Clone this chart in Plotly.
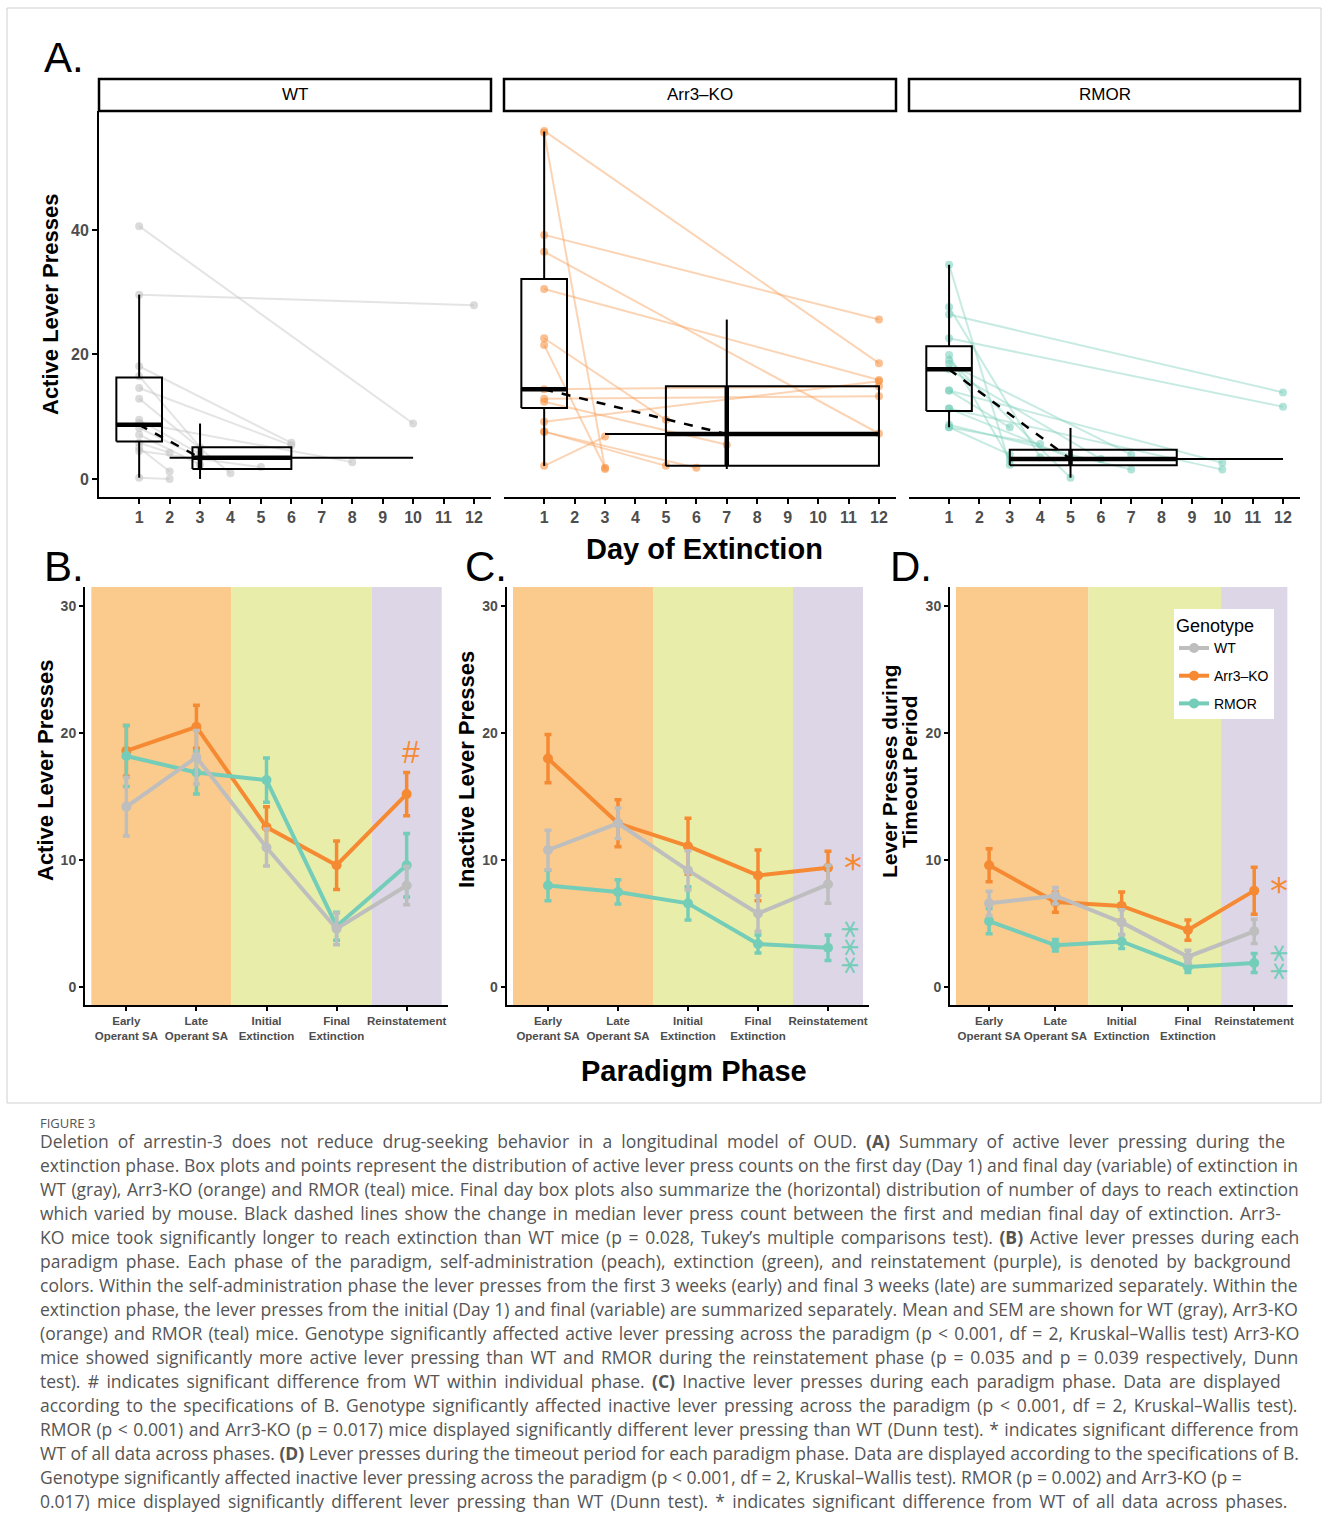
import plotly.graph_objects as go

W, H = 1329, 1529
FONT = "Liberation Sans, Arial, sans-serif"
TICK_GRAY = "#4D4D4D"

# ---------------- data ----------------
genotypes = ["WT", "Arr3–KO", "RMOR"]
geno_colors = ["#BEBEBE", "#F58A33", "#74CDB9"]
point_colors = ["rgba(195,195,195,0.6)", "rgba(245,140,55,0.55)", "rgba(116,205,185,0.55)"]
link_colors = ["rgba(195,195,195,0.45)", "rgba(247,160,90,0.45)", "rgba(130,210,190,0.45)"]

extinction_days = list(range(1, 13))
first_day = 1

# Panel A: per-mouse active presses, day 1 and final day of extinction
wt_day1 = [40.6, 29.6, 18.1, 16.5, 14.6, 12.9, 9.0, 8.2, 7.1, 5.8, 5.0, 0.2, 4.5, 9.5]
wt_final_day = [10, 12, 6, 3, 6, 4, 8, 3, 3, 2, 2, 2, 5, 3]
wt_final = [8.9, 27.9, 5.8, 5.1, 5.4, 0.9, 2.7, 3.4, 2.3, 4.2, 1.2, 0.0, 1.9, 4.0]

ko_day1 = [55.9, 55.6, 39.2, 36.5, 30.5, 22.6, 21.5, 14.4, 12.9, 12.4, 9.2, 7.6, 7.6, 2.1]
ko_final_day = [12, 3, 12, 12, 12, 5, 3, 12, 12, 7, 12, 5, 6, 3]
ko_final = [18.6, 1.6, 25.6, 7.3, 15.9, 9.5, 1.8, 14.9, 13.3, 5.5, 15.7, 2.1, 1.8, 6.8]

rm_day1 = [34.4, 27.6, 26.4, 22.6, 19.9, 19.1, 18.5, 17.6, 14.2, 14.2, 11.3, 8.7, 8.3, 8.3, 11.3]
rm_final_day = [3, 4, 12, 12, 3, 5, 7, 6, 10, 3, 10, 7, 4, 3, 5]
rm_final = [2.3, 3.5, 13.9, 11.6, 3.1, 0.2, 3.9, 3.2, 2.6, 8.3, 1.5, 1.5, 5.6, 3.9, 3.4]

# Panel A box summaries (order: WT, Arr3-KO, RMOR)
day1_lower = [0.2, 2.1, 8.3]
day1_q1 = [6.0, 11.4, 10.9]
day1_median = [8.7, 14.4, 17.6]
day1_q3 = [16.3, 32.1, 21.3]
day1_upper = [29.6, 55.8, 34.4]

final_val_lower = [0.0, 1.6, 0.2]
final_val_q1 = [1.6, 2.1, 2.2]
final_val_median = [3.4, 7.2, 3.2]
final_val_q3 = [5.1, 14.9, 4.7]
final_val_upper = [8.9, 25.6, 8.2]

final_day_lower = [2, 3, 3]
final_day_q1 = [2.75, 5, 3]
final_day_median = [3, 7, 5]
final_day_q3 = [6, 12, 8.5]
final_day_upper = [10, 12, 12]

# Panels B-D
phases = ["Early<br>Operant SA", "Late<br>Operant SA", "Initial<br>Extinction",
          "Final<br>Extinction", "Reinstatement"]
phase_pos = [1, 2, 3, 4, 5]
band_edges = [0.5, 2.5, 4.5, 5.5]
band_colors = ["#FACB8C", "#E8EEAA", "#DDD6E7"]

active_mean = {"WT": [14.2, 18.1, 11.0, 4.6, 8.0],
               "Arr3–KO": [18.6, 20.5, 12.6, 9.6, 15.2],
               "RMOR": [18.2, 16.9, 16.3, 4.8, 9.6]}
active_sem = {"WT": [2.3, 2.1, 1.45, 1.25, 1.5],
              "Arr3–KO": [2.0, 1.7, 1.6, 1.9, 1.7],
              "RMOR": [2.4, 1.7, 1.75, 1.1, 2.5]}
inactive_mean = {"WT": [10.8, 12.9, 9.2, 5.8, 8.1],
                 "Arr3–KO": [18.0, 12.9, 11.1, 8.8, 9.4],
                 "RMOR": [8.0, 7.5, 6.6, 3.4, 3.1]}
inactive_sem = {"WT": [1.55, 1.2, 1.55, 1.4, 1.5],
                "Arr3–KO": [1.9, 1.85, 2.2, 2.0, 1.3],
                "RMOR": [1.2, 0.95, 1.3, 0.7, 1.0]}
timeout_mean = {"WT": [6.6, 7.2, 5.1, 2.4, 4.4],
                "Arr3–KO": [9.6, 6.7, 6.4, 4.5, 7.6],
                "RMOR": [5.2, 3.3, 3.6, 1.6, 1.9]}
timeout_sem = {"WT": [0.95, 0.65, 1.0, 0.5, 0.95],
               "Arr3–KO": [1.3, 0.8, 1.1, 0.8, 1.85],
               "RMOR": [1.0, 0.45, 0.55, 0.45, 0.75]}

# significance markers: (panel, marker text, genotype index, x, y of centre)
sig_marks = [("B", "#", 1, 5.06, 18.5),
             ("C", "*", 1, 5.35, 9.77),
             ("C", "***", 2, 5.28, 3.17),
             ("D", "*", 1, 5.37, 7.90),
             ("D", "**", 2, 5.34, 1.99)]

caption_title = "FIGURE 3"
caption_lines = [
    "Deletion of arrestin-3 does not reduce drug-seeking behavior in a longitudinal model of OUD. <b>(A)</b> Summary of active lever pressing during the",
    "extinction phase. Box plots and points represent the distribution of active lever press counts on the first day (Day 1) and final day (variable) of extinction in",
    "WT (gray), Arr3-KO (orange) and RMOR (teal) mice. Final day box plots also summarize the (horizontal) distribution of number of days to reach extinction",
    "which varied by mouse. Black dashed lines show the change in median lever press count between the first and median final day of extinction. Arr3-",
    "KO mice took significantly longer to reach extinction than WT mice (p = 0.028, Tukey’s multiple comparisons test). <b>(B)</b> Active lever presses during each",
    "paradigm phase. Each phase of the paradigm, self-administration (peach), extinction (green), and reinstatement (purple), is denoted by background",
    "colors. Within the self-administration phase the lever presses from the first 3 weeks (early) and final 3 weeks (late) are summarized separately. Within the",
    "extinction phase, the lever presses from the initial (Day 1) and final (variable) are summarized separately. Mean and SEM are shown for WT (gray), Arr3-KO",
    "(orange) and RMOR (teal) mice. Genotype significantly affected active lever pressing across the paradigm (p &lt; 0.001, df = 2, Kruskal–Wallis test) Arr3-KO",
    "mice showed significantly more active lever pressing than WT and RMOR during the reinstatement phase (p = 0.035 and p = 0.039 respectively, Dunn",
    "test). # indicates significant difference from WT within individual phase. <b>(C)</b> Inactive lever presses during each paradigm phase. Data are displayed",
    "according to the specifications of B. Genotype significantly affected inactive lever pressing across the paradigm (p &lt; 0.001, df = 2, Kruskal–Wallis test).",
    "RMOR (p &lt; 0.001) and Arr3-KO (p = 0.017) mice displayed significantly different lever pressing than WT (Dunn test). * indicates significant difference from",
    "WT of all data across phases. <b>(D)</b> Lever presses during the timeout period for each paradigm phase. Data are displayed according to the specifications of B.",
    "Genotype significantly affected inactive lever pressing across the paradigm (p &lt; 0.001, df = 2, Kruskal–Wallis test). RMOR (p = 0.002) and Arr3-KO (p =",
    "0.017) mice displayed significantly different lever pressing than WT (Dunn test). * indicates significant difference from WT of all data across phases.",
]

# caption typesetting (layout only): approximate justification via word spacing
caption_extra_px = [96, 4, 24, 47, 48, 54, 13, 6, 36, 52, 56, 48, 22, 1, 0, 57]


# ---------------- helpers ----------------
def px_x(p):
    return p / W


def px_y(p):
    return 1 - p / H


fig = go.Figure()

# Panel A facets
facet_x = [(99, 491), (504, 896), (909, 1300)]
facet_y = (111, 497)
mice = [(wt_day1, wt_final_day, wt_final), (ko_day1, ko_final_day, ko_final), (rm_day1, rm_final_day, rm_final)]
BOX_HALF = 0.75

for g in range(3):
    xa = "x" if g == 0 else f"x{g + 1}"
    ya = "y" if g == 0 else f"y{g + 1}"
    d1, fd, fv = mice[g]
    lx, ly = [], []
    for a, b, c in zip(d1, fd, fv):
        lx += [first_day, b, None]
        ly += [a, c, None]
    fig.add_trace(go.Scatter(x=lx, y=ly, mode="lines", line=dict(color=link_colors[g], width=2),
                             xaxis=xa, yaxis=ya, showlegend=False, hoverinfo="skip"))
    fig.add_trace(go.Scatter(x=[first_day] * len(d1) + fd, y=d1 + fv, mode="markers",
                             marker=dict(color=point_colors[g], size=8), xaxis=xa, yaxis=ya,
                             showlegend=False, hoverinfo="skip"))
    c = first_day
    blk = dict(color="black", width=2)
    fig.add_trace(go.Scatter(x=[c, c, None, c, c], y=[day1_lower[g], day1_q1[g], None, day1_q3[g], day1_upper[g]],
                             mode="lines", line=blk, xaxis=xa, yaxis=ya, showlegend=False, hoverinfo="skip"))
    fig.add_trace(go.Scatter(x=[c - BOX_HALF, c + BOX_HALF, c + BOX_HALF, c - BOX_HALF, c - BOX_HALF],
                             y=[day1_q1[g], day1_q1[g], day1_q3[g], day1_q3[g], day1_q1[g]],
                             mode="lines", line=blk, xaxis=xa, yaxis=ya, showlegend=False, hoverinfo="skip"))
    fig.add_trace(go.Scatter(x=[c - BOX_HALF, c + BOX_HALF], y=[day1_median[g]] * 2, mode="lines",
                             line=dict(color="black", width=4.5), xaxis=xa, yaxis=ya, showlegend=False, hoverinfo="skip"))
    fig.add_trace(go.Scatter(x=[final_day_median[g]] * 2, y=[final_val_lower[g], final_val_upper[g]], mode="lines",
                             line=blk, xaxis=xa, yaxis=ya, showlegend=False, hoverinfo="skip"))
    fig.add_trace(go.Scatter(x=[final_day_lower[g], final_day_upper[g]], y=[final_val_median[g]] * 2, mode="lines",
                             line=blk, xaxis=xa, yaxis=ya, showlegend=False, hoverinfo="skip"))
    fig.add_trace(go.Scatter(x=[final_day_q1[g], final_day_q3[g], final_day_q3[g], final_day_q1[g], final_day_q1[g]],
                             y=[final_val_q1[g], final_val_q1[g], final_val_q3[g], final_val_q3[g], final_val_q1[g]],
                             mode="lines", line=blk, xaxis=xa, yaxis=ya, showlegend=False, hoverinfo="skip"))
    fig.add_trace(go.Scatter(x=[final_day_q1[g], final_day_q3[g], None, final_day_median[g], final_day_median[g]],
                             y=[final_val_median[g], final_val_median[g], None, final_val_q1[g], final_val_q3[g]],
                             mode="lines", line=dict(color="black", width=4.5), xaxis=xa, yaxis=ya,
                             showlegend=False, hoverinfo="skip"))
    fig.add_trace(go.Scatter(x=[first_day, final_day_median[g]], y=[day1_median[g], final_val_median[g]],
                             mode="lines", line=dict(color="black", width=2.5, dash="dash"),
                             xaxis=xa, yaxis=ya, showlegend=False, hoverinfo="skip"))

# Panels B-D
panel_data = [("x4", "y4", active_mean, active_sem),
              ("x5", "y5", inactive_mean, inactive_sem),
              ("x6", "y6", timeout_mean, timeout_sem)]
draw_order = [1, 2, 0]
for pi, (xa, ya, means, sems) in enumerate(panel_data):
    for g in draw_order:
        name = genotypes[g]
        fig.add_trace(go.Scatter(
            x=phase_pos, y=means[name], mode="lines+markers", name=name, legendgroup=name,
            line=dict(color=geno_colors[g], width=4), marker=dict(color=geno_colors[g], size=10),
            error_y=dict(type="data", array=sems[name], color=geno_colors[g], thickness=3.5, width=3.5),
            xaxis=xa, yaxis=ya, showlegend=(pi == 2), legendrank=g + 1, hoverinfo="skip"))

# ---------------- layout ----------------
layout = dict(width=W, height=H, autosize=False, margin=dict(l=0, r=0, t=0, b=0), plot_bgcolor="white",
              paper_bgcolor="white", font=dict(family=FONT, color="black"))

for g in range(3):
    k = "" if g == 0 else str(g + 1)
    x0, x1 = facet_x[g]
    layout["xaxis" + k] = dict(domain=[px_x(x0), px_x(x1)], range=[-0.32, 12.56], anchor="y" + k,
                               tickvals=extinction_days, ticktext=[str(d) for d in extinction_days],
                               ticks="outside", ticklen=5, tickwidth=2, tickcolor="black", tickangle=0,
                               showline=True, linewidth=2, linecolor="black", showgrid=False, zeroline=False,
                               tickfont=dict(size=16, color=TICK_GRAY, weight="bold"), fixedrange=True)
    layout["yaxis" + k] = dict(domain=[px_y(facet_y[1]), px_y(facet_y[0])], range=[-2.9, 59.1], anchor="x" + k,
                               tickvals=[0, 20, 40], showgrid=False, zeroline=False,
                               showline=(g == 0), linewidth=2, linecolor="black",
                               ticks="outside" if g == 0 else "", ticklen=5, tickwidth=2, tickcolor="black",
                               showticklabels=(g == 0),
                               tickfont=dict(size=16, color=TICK_GRAY, weight="bold"), fixedrange=True)

bcd_x = [(85, 448), (506.7, 869.3), (950, 1293.3)]
bcd_y = (587, 1005)
for i in range(3):
    k = str(i + 4)
    x0, x1 = bcd_x[i]
    layout["xaxis" + k] = dict(domain=[px_x(x0), px_x(x1)], range=[0.41, 5.59], anchor="y" + k,
                               tickvals=phase_pos, ticktext=phases, ticks="outside", ticklen=4, tickwidth=1.5,
                               tickcolor="black", tickangle=0, showline=True, linewidth=2, linecolor="black",
                               showgrid=False, zeroline=False,
                               tickfont=dict(size=11.5, color=TICK_GRAY, weight="bold"), fixedrange=True)
    layout["yaxis" + k] = dict(domain=[px_y(bcd_y[1]), px_y(bcd_y[0])], range=[-1.4, 31.5], anchor="x" + k,
                               tickvals=[0, 10, 20, 30], ticks="outside", ticklen=4, tickwidth=1.5,
                               tickcolor="black", showline=True, linewidth=2, linecolor="black",
                               showgrid=False, zeroline=False,
                               tickfont=dict(size=14, color=TICK_GRAY, weight="bold"), fixedrange=True)

shapes = []
shapes.append(dict(type="rect", xref="paper", yref="paper", x0=px_x(7), x1=px_x(1321), y0=px_y(1103), y1=px_y(8),
                   line=dict(color="#D0D0D0", width=1), fillcolor="rgba(0,0,0,0)", layer="below"))
for g in range(3):
    xa = "x" if g == 0 else f"x{g + 1}"
    shapes.append(dict(type="rect", xref=f"{xa} domain", yref="paper", x0=0, x1=1, y0=px_y(111), y1=px_y(79),
                       line=dict(color="black", width=2.5), fillcolor="white"))
for i in range(3):
    xa = f"x{i + 4}"
    ya = f"y{i + 4}"
    for b in range(3):
        shapes.append(dict(type="rect", xref=xa, yref=f"{ya} domain", x0=band_edges[b], x1=band_edges[b + 1],
                           y0=0, y1=1, fillcolor=band_colors[b], line=dict(width=0), layer="below"))
layout["shapes"] = shapes

ann = []
for lab, x, y in [("A.", 42, 58), ("B.", 42, 566), ("C.", 463, 566), ("D.", 888, 566)]:
    ann.append(dict(text=lab, x=px_x(x), y=px_y(y), xref="paper", yref="paper", xanchor="left", yanchor="middle",
                    showarrow=False, font=dict(size=42, family=FONT, color="black")))
for g in range(3):
    xa = "x" if g == 0 else f"x{g + 1}"
    ann.append(dict(text=genotypes[g], x=0.5, y=px_y(95), xref=f"{xa} domain", yref="paper",
                    xanchor="center", yanchor="middle", showarrow=False, font=dict(size=17, family=FONT)))
for txt, x, y, fs in [("Active Lever Presses", 50, 305, 22), ("Active Lever Presses", 45, 771, 22),
                      ("Inactive Lever Presses", 466, 770, 22), ("Lever Presses during", 889, 771, 21),
                      ("Timeout Period", 910, 772, 21)]:
    ann.append(dict(text=txt, x=px_x(x), y=px_y(y), xref="paper", yref="paper", textangle=-90,
                    xanchor="center", yanchor="middle", showarrow=False,
                    font=dict(size=fs, family=FONT, color="black", weight="bold")))
big_title = dict(size=29, family=FONT, color="black", weight="bold")
ann.append(dict(text="Day of Extinction", x=px_x(704), y=px_y(549), xref="paper", yref="paper",
                xanchor="center", yanchor="middle", showarrow=False, font=big_title))
ann.append(dict(text="Paradigm Phase", x=px_x(694), y=px_y(1071), xref="paper", yref="paper",
                xanchor="center", yanchor="middle", showarrow=False, font=big_title))
panel_axes = {"B": ("x4", "y4"), "C": ("x5", "y5"), "D": ("x6", "y6")}
for panel, sym, g, x, y in sig_marks:
    xa, ya = panel_axes[panel]
    if sym == "#":
        ann.append(dict(text=sym, x=x, y=y, xref=xa, yref=ya, xanchor="center", yanchor="middle",
                        showarrow=False, font=dict(size=32, family=FONT, color=geno_colors[g])))
    elif len(sym) == 1:
        ann.append(dict(text=sym, x=x, y=y, xref=xa, yref=ya, xanchor="center", yanchor="middle",
                        yshift=-4, showarrow=False,
                        font=dict(size=36, family="DejaVu Sans", color=geno_colors[g])))
    else:
        # stacked asterisks: one text run turned vertical so the glyphs sit tightly
        ann.append(dict(text=sym, x=x, y=y, xref=xa, yref=ya, xanchor="center", yanchor="middle",
                        textangle=90, xshift=-4, yshift=0, showarrow=False,
                        font=dict(size=36, family="DejaVu Sans", color=geno_colors[g])))
cap_color = "#555555"
ann.append(dict(text=caption_title, x=px_x(38), y=px_y(1123), xref="paper", yref="paper", xanchor="left",
                yanchor="middle", showarrow=False, font=dict(size=13, family="Open Sans", color=cap_color)))
for i, line in enumerate(caption_lines):
    n_spaces = max(line.count(" "), 1)
    ws = max(caption_extra_px[i], 0) / n_spaces
    txt = f'<span style="word-spacing:{ws:.2f}px">{line}</span>'
    ann.append(dict(text=txt, x=px_x(38), y=px_y(1141 + 24 * i), xref="paper", yref="paper", xanchor="left",
                    yanchor="middle", showarrow=False, font=dict(size=17.5, family="Open Sans", color=cap_color)))
layout["annotations"] = ann

layout["legend"] = dict(x=px_x(1174), y=px_y(609), xanchor="left", yanchor="top", bgcolor="white",
                        title=dict(text="Genotype", font=dict(size=18, family=FONT)),
                        font=dict(size=14, family=FONT), traceorder="grouped", tracegroupgap=6.5, itemwidth=30)

fig.update_layout(**layout)
fig.write_html("out.html", config={"displayModeBar": False, "responsive": False},
               post_script="document.body.style.margin='0';document.body.style.overflow='hidden';")
